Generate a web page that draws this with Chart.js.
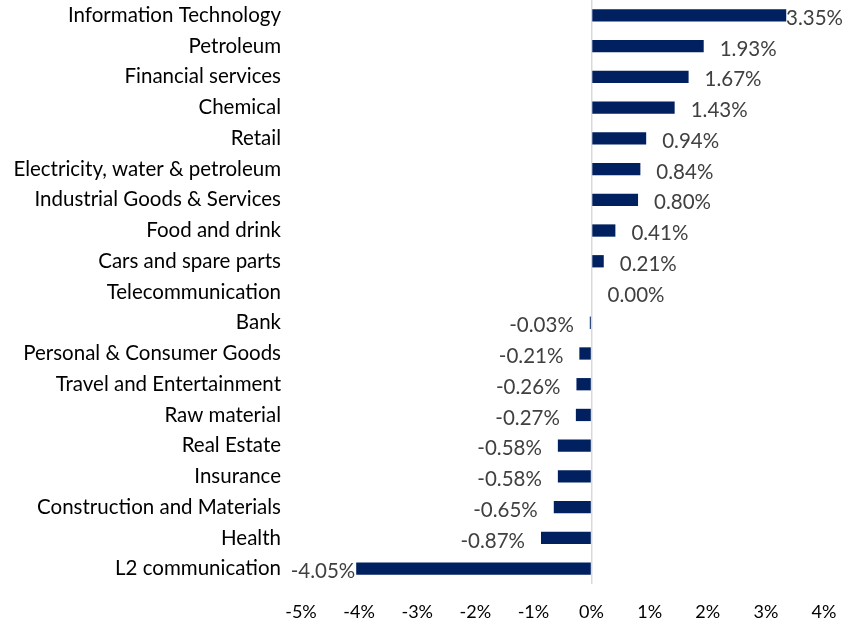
<!DOCTYPE html>
<html>
<head>
<meta charset="utf-8">
<script src="https://cdn.jsdelivr.net/npm/chart.js@4/dist/chart.umd.min.js"></script>
<style>
html,body{margin:0;padding:0;background:#fff;}
#wrap{width:843px;height:625px;position:relative;}
</style>
</head>
<body>
<div id="wrap"><canvas id="c" width="843" height="625"></canvas></div>
<script>
const categories = [
  "Information Technology","Petroleum","Financial services","Chemical","Retail",
  "Electricity, water & petroleum","Industrial Goods & Services","Food and drink",
  "Cars and spare parts","Telecommunication","Bank","Personal & Consumer Goods",
  "Travel and Entertainment","Raw material","Real Estate","Insurance",
  "Construction and Materials","Health","L2 communication"
];
const changes = [3.35,1.93,1.67,1.43,0.94,0.84,0.80,0.41,0.21,0.00,-0.03,-0.21,-0.26,-0.27,-0.58,-0.58,-0.65,-0.87,-4.05];
const xMin = -5, xMax = 4, xStep = 1;

const FONT = "Lato, 'Open Sans', sans-serif";

const labelPlugin = {
  id: 'barLabels',
  afterDatasetsDraw(chart) {
    const ctx = chart.ctx;
    const meta = chart.getDatasetMeta(0);
    ctx.save();
    ctx.font = "20.5px " + FONT;
    ctx.fillStyle = "#404040";
    ctx.textBaseline = "middle";
    meta.data.forEach((bar, i) => {
      const v = changes[i];
      const txt = v.toFixed(2) + "%";
      const w = ctx.measureText(txt).width;
      const y = bar.y + 3;
      if (v >= 0) {
        let x = bar.x + 16;
        if (x + w > chart.width) x = chart.width - w;
        ctx.textAlign = "left";
        ctx.fillText(txt, x, y);
      } else {
        let x = bar.x - 16;
        if (x - w < 296) x = bar.x - 1;
        ctx.textAlign = "right";
        ctx.fillText(txt, x, y);
      }
    });
    ctx.restore();
  }
};

new Chart(document.getElementById('c'), {
  type: 'bar',
  data: {
    labels: categories,
    datasets: [{
      data: changes,
      backgroundColor: '#002060',
      borderWidth: 0,
      categoryPercentage: 0.4,
      barPercentage: 1.0
    }]
  },
  options: {
    indexAxis: 'y',
    responsive: false,
    animation: false,
    layout: { padding: { left: 0, right: 19, top: 0, bottom: 0 } },
    plugins: { legend: { display: false }, tooltip: { enabled: false } },
    scales: {
      x: {
        min: xMin, max: xMax,
        border: { display: false },
        grid: {
          drawTicks: false,
          color: ctx => (ctx.tick && ctx.tick.value === 0) ? '#d9d9d9' : 'rgba(0,0,0,0)',
          lineWidth: 1.5
        },
        ticks: {
          stepSize: xStep,
          padding: 17,
          color: '#000',
          font: { size: 18, family: FONT },
          callback: v => v + '%'
        },
        afterFit: s => { s.height = 41; s.paddingLeft = 0; s.paddingRight = 0; }
      },
      y: {
        border: { display: false },
        grid: { display: false, drawTicks: false },
        ticks: {
          padding: 20,
          color: '#000',
          font: { size: 20.5, family: FONT },
          autoSkip: false
        },
        afterFit: s => { s.width = 301; s.paddingTop = 0; s.paddingBottom = 0; }
      }
    }
  },
  plugins: [labelPlugin]
});
</script>
</body>
</html>
